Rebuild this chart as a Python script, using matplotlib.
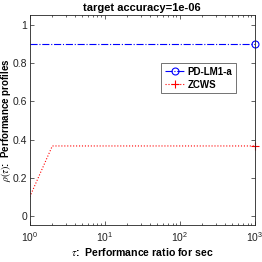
import matplotlib
matplotlib.use("Agg")
import matplotlib.pyplot as plt
from matplotlib.ticker import LogLocator, NullFormatter

plt.rcParams['font.family'] = ['Liberation Sans', 'DejaVu Sans']
plt.rcParams['mathtext.fontset'] = 'stix'

title = "target accuracy=1e-06"
xlabel_text = "Performance ratio for sec"
ylabel_text = "Performance profiles"
series_names = ["PD-LM1-a", "ZCWS"]
pd_tau = [1, 1000]
pd_rho = [0.9, 0.9]
zc_tau = [1, 2, 1000]
zc_rho = [0.1, 0.3667, 0.3667]

fig = plt.figure(figsize=(2.62, 2.62), dpi=100)
ax = fig.add_axes([0.1135, 0.141, 0.859, 0.802])

ax.plot(pd_tau, pd_rho, color='blue', linestyle='-.', linewidth=0.8)
ax.plot(pd_tau[-1:], pd_rho[-1:], color='blue', marker='o', markersize=5,
        markerfacecolor='none', linestyle='none', markeredgewidth=0.8, clip_on=False)
ax.plot(zc_tau, zc_rho, color='red', linestyle=':', linewidth=0.8)
ax.plot(zc_tau[-1:], zc_rho[-1:], color='red', marker='+', markersize=6,
        linestyle='none', markeredgewidth=0.8, clip_on=False)

# legend proxies
l1, = ax.plot([], [], color='blue', linestyle='-.', marker='o', markerfacecolor='none',
              markersize=5, linewidth=0.8, markeredgewidth=0.8)
l2, = ax.plot([], [], color='red', linestyle=':', marker='+', markersize=6,
              linewidth=0.8, markeredgewidth=0.8)
leg = ax.legend([l1, l2], series_names, loc='upper left', bbox_to_anchor=(0.585, 0.77),
                prop={'weight': 'bold', 'size': 7}, frameon=True, fancybox=False,
                handlelength=2.0, borderpad=0.35, labelspacing=0.3, handletextpad=0.35,
                borderaxespad=0)
leg.get_frame().set_edgecolor('#333333')
leg.get_frame().set_linewidth(0.6)

ax.set_xscale('log')
ax.set_xlim(1, 1000)
ax.set_ylim(-0.047, 1.052)
ax.set_yticks([0, 0.2, 0.4, 0.6, 0.8, 1])
ax.set_yticklabels(['0', '0.2', '0.4', '0.6', '0.8', '1'])
ax.xaxis.set_minor_locator(LogLocator(base=10, subs=range(2, 10)))
ax.xaxis.set_minor_formatter(NullFormatter())
ax.tick_params(which='both', direction='in', top=True, right=True, labelsize=7.5,
               colors='#222222', width=0.5)
ax.tick_params(axis='y', pad=2)
ax.tick_params(which='major', length=3)
ax.tick_params(which='minor', length=1.5)
for s in ax.spines.values():
    s.set_color('#222222')
    s.set_linewidth(0.6)

ax.set_title(title, fontsize=8, fontweight='bold', pad=3)
ax.set_xlabel(r"$\tau$:  " + xlabel_text, fontsize=7.6, fontweight='bold', labelpad=2)
ax.set_ylabel(r"$\rho(\tau)$:  " + ylabel_text, fontsize=7.0, fontweight='bold')
ax.yaxis.set_label_coords(-0.075, 0.5)

fig.savefig("out.png", dpi=100)
